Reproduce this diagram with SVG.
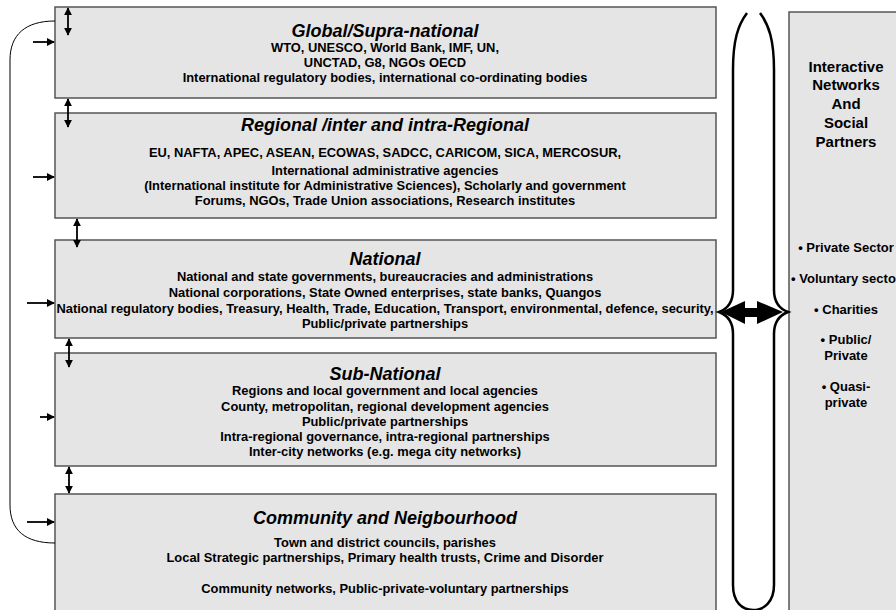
<svg xmlns="http://www.w3.org/2000/svg" width="896" height="610" viewBox="0 0 896 610">
<defs>
<style>
.box{fill:#e5e5e5;stroke:#555;stroke-width:1.5}
.t{font-family:"Liberation Sans",Arial,sans-serif;font-weight:bold;font-style:italic;font-size:18px;fill:#000;text-anchor:middle}
.b{font-family:"Liberation Sans",Arial,sans-serif;font-weight:bold;font-size:12.9px;fill:#000;text-anchor:middle}
.r{font-family:"Liberation Sans",Arial,sans-serif;font-weight:bold;font-size:15px;fill:#000;text-anchor:middle}
.s{font-family:"Liberation Sans",Arial,sans-serif;font-weight:bold;font-size:13px;fill:#000;text-anchor:middle}
.ln{fill:none;stroke:#000;stroke-width:1.8}
.thin{fill:none;stroke:#000;stroke-width:1}
</style>
<marker id="ah" viewBox="0 0 10 10" refX="9" refY="5" markerWidth="4.5" markerHeight="4.5" orient="auto-start-reverse" markerUnits="strokeWidth">
<path d="M0,0 L10,5 L0,10 z" fill="#000"/>
</marker>
</defs>
<rect width="896" height="610" fill="#fff"/>

<g id="global">
<rect class="box" x="55" y="7" width="661" height="91"/>
<text class="t" x="385" y="37">Global/Supra-national</text>
<text class="b" x="385" y="52">WTO, UNESCO, World Bank, IMF, UN,</text>
<text class="b" x="385" y="67">UNCTAD, G8, NGOs OECD</text>
<text class="b" x="385" y="82">International regulatory bodies, international co-ordinating bodies</text>
</g>

<g id="regional">
<rect class="box" x="55" y="113" width="661" height="105"/>
<text class="t" x="385" y="131">Regional /inter and intra-Regional</text>
<text class="b" x="385" y="157">EU, NAFTA, APEC, ASEAN, ECOWAS, SADCC, CARICOM, SICA, MERCOSUR,</text>
<text class="b" x="385" y="175">International administrative agencies</text>
<text class="b" x="385" y="190">(International institute for Administrative Sciences), Scholarly and government</text>
<text class="b" x="385" y="205">Forums, NGOs, Trade Union associations, Research institutes</text>
</g>

<g id="national">
<rect class="box" x="55" y="240" width="661" height="98"/>
<text class="t" x="385" y="265">National</text>
<text class="b" x="385" y="281">National and state governments, bureaucracies and administrations</text>
<text class="b" x="385" y="297">National corporations, State Owned enterprises, state banks, Quangos</text>
<text class="b" x="385" y="313">National regulatory bodies, Treasury, Health, Trade, Education, Transport, environmental, defence, security,</text>
<text class="b" x="385" y="328">Public/private partnerships</text>
</g>

<g id="subnational">
<rect class="box" x="55" y="353" width="661" height="113"/>
<text class="t" x="385" y="380">Sub-National</text>
<text class="b" x="385" y="395">Regions and local government and local agencies</text>
<text class="b" x="385" y="411">County, metropolitan, regional development agencies</text>
<text class="b" x="385" y="426">Public/private partnerships</text>
<text class="b" x="385" y="441">Intra-regional governance, intra-regional partnerships</text>
<text class="b" x="385" y="456">Inter-city networks (e.g. mega city networks)</text>
</g>

<g id="community">
<rect class="box" x="55" y="494" width="661" height="130"/>
<text class="t" x="385" y="524">Community and Neigbourhood</text>
<text class="b" x="385" y="547">Town and district councils, parishes</text>
<text class="b" x="385" y="562">Local Strategic partnerships, Primary health trusts, Crime and Disorder</text>
<text class="b" x="385" y="593">Community networks, Public-private-voluntary partnerships</text>
</g>

<g id="partners">
<rect class="box" x="789" y="12" width="120" height="612"/>
<text class="r" x="846" y="72">Interactive</text>
<text class="r" x="846" y="90">Networks</text>
<text class="r" x="846" y="109">And</text>
<text class="r" x="846" y="128">Social</text>
<text class="r" x="846" y="147">Partners</text>
<text class="s" x="846" y="252">• Private Sector</text>
<text class="s" x="846" y="283">• Voluntary sector</text>
<text class="s" x="846" y="314">• Charities</text>
<text class="s" x="846" y="344">• Public/</text>
<text class="s" x="846" y="360">Private</text>
<text class="s" x="846" y="391">• Quasi-</text>
<text class="s" x="846" y="407">private</text>
</g>

<g id="connectors">
<path class="thin" d="M55,21 C25,21 10,35 10,60 L10,505 C10,530 25,543 55,543"/>
<line class="ln" x1="33" y1="42" x2="54" y2="42" marker-end="url(#ah)"/>
<line class="ln" x1="33" y1="177" x2="54" y2="177" marker-end="url(#ah)"/>
<line class="ln" x1="27" y1="303" x2="54" y2="303" marker-end="url(#ah)"/>
<line class="ln" x1="40" y1="417" x2="54" y2="417" marker-end="url(#ah)"/>
<line class="ln" x1="27" y1="522" x2="54" y2="522" marker-end="url(#ah)"/>
<line class="ln" x1="68" y1="8" x2="68" y2="35" marker-start="url(#ah)" marker-end="url(#ah)"/>
<line class="ln" x1="68" y1="99" x2="68" y2="127" marker-start="url(#ah)" marker-end="url(#ah)"/>
<line class="ln" x1="77" y1="219" x2="77" y2="247" marker-start="url(#ah)" marker-end="url(#ah)"/>
<line class="ln" x1="69" y1="339" x2="69" y2="367" marker-start="url(#ah)" marker-end="url(#ah)"/>
<line class="ln" x1="69" y1="467" x2="69" y2="493" marker-start="url(#ah)" marker-end="url(#ah)"/>
<path fill="none" stroke="#000" stroke-width="2.5" d="M747,13 C738,25 733,40 733,70 L733,290 C733,302 727,309 719,312 C727,315 733,322 733,334 L733,585 C733,602 742,610 753,610 C764,610 774,602 774,585 L774,334 C774,322 780,315 788,312 C780,309 774,302 774,290 L774,70 C774,40 769,25 760,13"/>
<path fill="#000" d="M721,312 L745,301 L745,308 L757,308 L757,301 L783,312 L757,324 L757,317 L745,317 L745,324 z"/>
</g>
</svg>
